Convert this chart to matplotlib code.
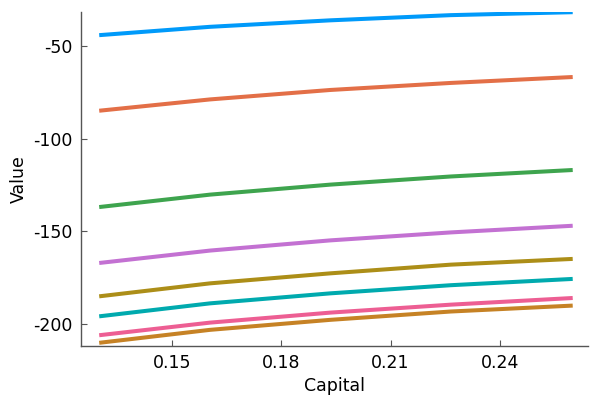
import matplotlib
matplotlib.use("Agg")
import matplotlib.pyplot as plt

plt.rcParams["axes.unicode_minus"] = False
plt.rcParams["font.family"] = ["DejaVu Sans"]

# values
capital = [0.13, 0.1604, 0.1934, 0.2265, 0.26]

series = [
    [-44.1, -39.6, -36.1, -33.3, -31.7],
    [-84.9, -78.8, -73.7, -69.9, -66.7],
    [-136.9, -130.2, -124.8, -120.4, -116.9],
    [-167.1, -160.4, -154.9, -150.6, -147.0],
    [-185.1, -178.1, -172.7, -168.0, -164.9],
    [-195.9, -188.9, -183.5, -179.1, -175.7],
    [-206.1, -199.3, -193.9, -189.6, -186.0],
    [-210.2, -203.2, -197.8, -193.3, -190.1],
]

colors = ["#009AFA", "#E36F47", "#3EA44E", "#C371D2",
          "#AC8E18", "#00AAAE", "#ED5E93", "#C68225"]

xticks = [0.15, 0.18, 0.21, 0.24]
yticks = [-200, -150, -100, -50]

fig = plt.figure(figsize=(6, 4), dpi=100)
ax = fig.add_axes([0.135, 0.136, 0.845, 0.834])

for vals, c in zip(series, colors):
    ax.plot(capital, vals, color=c, linewidth=2.9, solid_capstyle="butt")

ax.set_xlim(0.1250, 0.2642)
ax.set_ylim(-211.7, -31.6)
ax.set_xticks(xticks)
ax.set_xticklabels([f"{t:g}" for t in xticks])
ax.set_yticks(yticks)
ax.set_yticklabels([str(t) for t in yticks])

for side in ("top", "right"):
    ax.spines[side].set_visible(False)
for side in ("left", "bottom"):
    ax.spines[side].set_color("#555555")
    ax.spines[side].set_linewidth(1.0)

ax.tick_params(direction="in", length=4, width=0.8, color="#555555",
               labelsize=12.5, pad=6)
ax.set_xlabel("Capital", fontsize=12.5, labelpad=4)
ax.set_ylabel("Value", fontsize=12.5, labelpad=4)

fig.savefig("out.png", dpi=100)
